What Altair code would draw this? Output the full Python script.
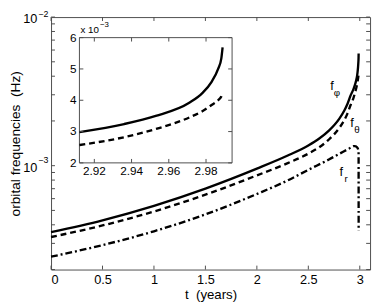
import altair as alt
import pandas as pd

FONT = "Liberation Sans"
W, H = 326, 258
FRAME = "#4d4d4d"

# ---------------- data ----------------
t_main = [0.0, 0.5, 1.0, 1.5, 2.0, 2.3, 2.5, 2.6, 2.7, 2.8, 2.85, 2.88, 2.912, 2.936,
          2.953, 2.971, 2.978, 2.983, 2.9865, 2.9882, 2.9889]
f_phi = [3.57e-4, 4.29e-4, 5.37e-4, 7.01e-4, 9.55e-4, 1.17e-3, 1.368e-3, 1.511e-3,
         1.72e-3, 2.065e-3, 2.35e-3, 2.60e-3, 2.985e-3, 3.24e-3, 3.5e-3, 3.92e-3,
         4.23e-3, 4.59e-3, 5.0e-3, 5.33e-3, 5.69e-3]
f_theta = [3.31e-4, 3.96e-4, 4.92e-4, 6.38e-4, 8.6e-4, 1.04e-3, 1.205e-3, 1.322e-3,
           1.50e-3, 1.79e-3, 2.03e-3, 2.24e-3, 2.57e-3, 2.82e-3, 3.08e-3, 3.45e-3,
           3.65e-3, 3.85e-3, 4.0e-3, 4.12e-3, 4.23e-3]
t_r = [0.0, 0.5, 1.0, 1.5, 2.0, 2.3, 2.5, 2.7, 2.8, 2.88, 2.92, 2.941, 2.952,
       2.965, 2.977, 2.985, 2.9885, 2.989]
f_r = [2.44e-4, 2.92e-4, 3.62e-4, 4.70e-4, 6.45e-4, 7.96e-4, 9.38e-4, 1.10e-3,
       1.20e-3, 1.285e-3, 1.33e-3, 1.352e-3, 1.355e-3, 1.345e-3, 1.32e-3,
       1.28e-3, 1.22e-3, 3.63e-4]

x_ticks = [0, 0.5, 1, 1.5, 2, 2.5, 3]
y_ticks = [2e-4, 3e-4, 4e-4, 5e-4, 6e-4, 7e-4, 8e-4, 9e-4,
           1e-3, 2e-3, 3e-3, 4e-3, 5e-3, 6e-3, 7e-3, 8e-3, 9e-3, 1e-2]
y_major = [1e-2, 1e-3]
y_major_exp = ["\u22122", "\u22123"]

curve_base = ["f", "f", "f"]
curve_sub = ["\u03c6", "\u03b8", "r"]
curve_t = [2.73, 2.925, 2.82]
curve_f = [3.41e-3, 1.945e-3, 8.99e-4]

inset_t = [2.912, 2.994]
inset_f = [0.002, 0.006]
inset_x_ticks = [2.92, 2.94, 2.96, 2.98]
inset_y_ticks = [0.002, 0.003, 0.004, 0.005, 0.006]
inset_y_labels = ["2", "3", "4", "5", "6"]

# ---------------- scales ----------------
xsc = alt.Scale(domain=[0, 3.1], nice=False, zero=False)
ysc = alt.Scale(type="log", domain=[2e-4, 1e-2], nice=False)
xax = alt.Axis(values=x_ticks, format="~g", tickSize=0, domain=False, grid=False,
               labelFontSize=13, labelPadding=4, title="t\u00a0\u00a0(years)",
               titleFontSize=13.5, titleY=30, titleBaseline="alphabetic")
yax = alt.Axis(labels=False, ticks=False, domain=False, grid=False,
               title="orbital frequencies\u00a0\u00a0(Hz)", titleFontSize=14,
               titlePadding=29)
X = alt.X("t:Q", scale=xsc, axis=xax)
Y = alt.Y("f:Q", scale=ysc, axis=yax)

ixsc = alt.Scale(domain=inset_t, range=[29, 185], nice=False, zero=False)
iysc = alt.Scale(domain=inset_f, range=[149, 21], nice=False, zero=False)
IX = alt.X("ti:Q", scale=ixsc, axis=None)
IY = alt.Y("fi:Q", scale=iysc, axis=None)

# ---------------- main panel ----------------
d_phi = pd.DataFrame({"t": t_main, "f": f_phi})
d_th = pd.DataFrame({"t": t_main, "f": f_theta})
d_r = pd.DataFrame({"t": t_r, "f": f_r})

l_phi = alt.Chart(d_phi).mark_line(color="black", strokeWidth=2.4,
                                   interpolate="monotone").encode(x=X, y=Y)
l_th = alt.Chart(d_th).mark_line(color="black", strokeWidth=2.4, strokeDash=[6, 4],
                                 interpolate="monotone").encode(x=X, y=Y)
l_r = alt.Chart(d_r).mark_line(color="black", strokeWidth=2.4, strokeDash=[7, 3, 2, 3],
                               interpolate="monotone").encode(x=X, y=Y)

dxt = pd.DataFrame({"t": x_ticks})
dyt = pd.DataFrame({"f": y_ticks})
tick_b = alt.Chart(dxt).mark_rule(color=FRAME).encode(x=X, y=alt.value(H), y2=alt.value(H - 4))
tick_t = alt.Chart(dxt).mark_rule(color=FRAME).encode(x=X, y=alt.value(0), y2=alt.value(4))
tick_l = alt.Chart(dyt).mark_rule(color=FRAME).encode(y=Y, x=alt.value(0), x2=alt.value(4))
tick_r = alt.Chart(dyt).mark_rule(color=FRAME).encode(y=Y, x=alt.value(W - 4), x2=alt.value(W))

dmaj = pd.DataFrame({"f": y_major, "e": y_major_exp})
lab10 = alt.Chart(dmaj).mark_text(font=FONT, fontSize=13, align="right", baseline="middle",
                                  color="black", dy=2).encode(
    y=Y, x=alt.value(-14), text=alt.value("10"))
labexp_top = alt.Chart(dmaj.iloc[:1]).mark_text(
    font=FONT, fontSize=9, align="left", baseline="middle", color="black", dy=-3.5
).encode(y=Y, x=alt.value(-13), text="e:N")
labexp_low = alt.Chart(dmaj.iloc[1:]).mark_text(
    font=FONT, fontSize=9, align="left", baseline="middle", color="black", dy=-6
).encode(y=Y, x=alt.value(-13), text="e:N")

dcl = pd.DataFrame({"t": curve_t, "f": curve_f, "b": curve_base, "s": curve_sub})
cl_b = alt.Chart(dcl).mark_text(font=FONT, fontSize=13, align="center", color="black",
                                baseline="middle").encode(x=X, y=Y, text="b:N")
cl_s = alt.Chart(dcl).mark_text(font=FONT, fontSize=10, align="center", baseline="middle",
                                color="black", dx=5, dy=7).encode(x=X, y=Y, text="s:N")

main = alt.layer(l_r, l_th, l_phi, tick_b, tick_t, tick_l, tick_r,
                 lab10, labexp_top, labexp_low, cl_b, cl_s)

# ---------------- inset ----------------
dbox = pd.DataFrame({"ti": [inset_t[0]], "ti2": [inset_t[1]],
                     "fi": [inset_f[0]], "fi2": [inset_f[1]]})
box = alt.Chart(dbox).mark_rect(fill="white", stroke=FRAME, strokeWidth=1).encode(
    x=IX, x2="ti2:Q", y=IY, y2="fi2:Q")

k0 = 12
di_phi = pd.DataFrame({"ti": t_main[k0:], "fi": f_phi[k0:]})
di_th = pd.DataFrame({"ti": t_main[k0:], "fi": f_theta[k0:]})
il_phi = alt.Chart(di_phi).mark_line(color="black", strokeWidth=2.4,
                                     interpolate="monotone").encode(x=IX, y=IY)
il_th = alt.Chart(di_th).mark_line(color="black", strokeWidth=2.4, strokeDash=[6, 4],
                                   interpolate="monotone").encode(x=IX, y=IY)

dixt = pd.DataFrame({"ti": inset_x_ticks, "lo": inset_f[0], "hi": inset_f[1]})
diyt = pd.DataFrame({"fi": inset_y_ticks, "lo": inset_t[0], "hi": inset_t[1],
                     "lab": inset_y_labels})
it_b = alt.Chart(dixt).mark_rule(color=FRAME, y2Offset=-4).encode(
    x=IX, y=alt.Y("lo:Q", scale=iysc, axis=None), y2="lo:Q")
it_t = alt.Chart(dixt).mark_rule(color=FRAME, y2Offset=4).encode(
    x=IX, y=alt.Y("hi:Q", scale=iysc, axis=None), y2="hi:Q")
it_l = alt.Chart(diyt).mark_rule(color=FRAME, x2Offset=4).encode(
    y=IY, x=alt.X("lo:Q", scale=ixsc, axis=None), x2="lo:Q")
it_r = alt.Chart(diyt).mark_rule(color=FRAME, x2Offset=-4).encode(
    y=IY, x=alt.X("hi:Q", scale=ixsc, axis=None), x2="hi:Q")

ilab_y = alt.Chart(diyt).mark_text(font=FONT, fontSize=12, align="right", baseline="middle",
                                   color="black", dx=-3).encode(
    y=IY, x=alt.X("lo:Q", scale=ixsc, axis=None), text="lab:N")
ilab_x = alt.Chart(dixt).mark_text(font=FONT, fontSize=12, align="center", baseline="middle",
                                   color="black", dy=8).encode(
    x=IX, y=alt.Y("lo:Q", scale=iysc, axis=None), text=alt.Text("ti:Q", format=".2f"))

dmul = pd.DataFrame({"ti": [inset_t[0]], "fi": [inset_f[1]]})
imul = alt.Chart(dmul).mark_text(font=FONT, fontSize=10, align="left", baseline="middle",
                                 color="black", dx=1, dy=-8).encode(
    x=IX, y=IY, text=alt.value("x 10"))
imul_e = alt.Chart(dmul).mark_text(font=FONT, fontSize=8, align="left", baseline="middle",
                                   color="black", dx=21, dy=-13).encode(
    x=IX, y=IY, text=alt.value("\u22123"))

inset = alt.layer(box, il_th, il_phi, it_b, it_t, it_l, it_r, ilab_y, ilab_x, imul, imul_e)

chart = alt.layer(main, inset).resolve_scale(
    x="independent", y="independent"
).properties(
    width=W, height=H,
    padding={"left": 44, "top": 6, "right": 3, "bottom": 35},
    autosize=alt.AutoSizeParams(type="none"),
).configure_view(stroke=FRAME, strokeWidth=1).configure_axis(
    labelFont=FONT, titleFont=FONT, titleFontWeight="normal",
    labelColor="black", titleColor="black"
)

chart.save("out.html", embed_options={"renderer": "svg", "actions": False})
